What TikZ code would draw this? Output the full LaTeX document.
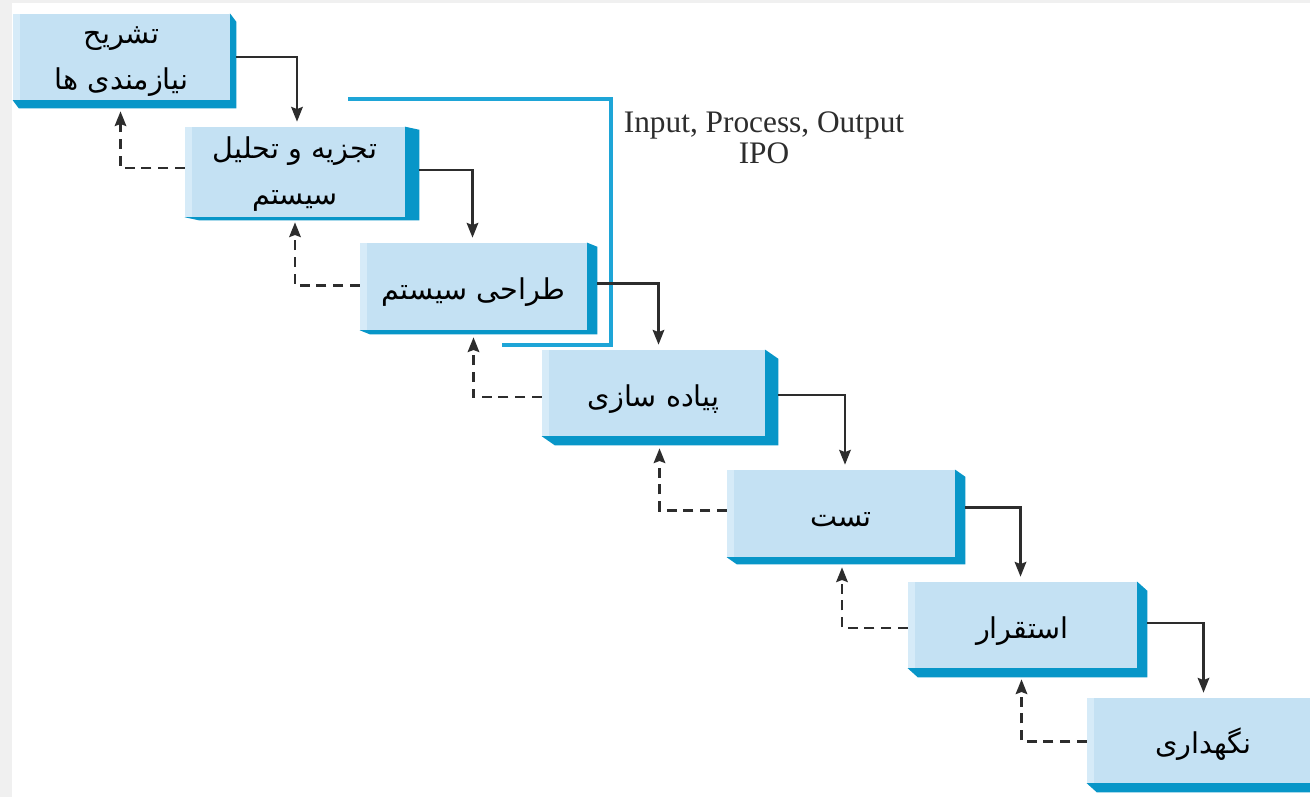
\documentclass[tikz,border=0pt]{standalone}
\usepackage{fontspec}
\setmainfont{Liberation Serif}
\newfontfamily\fa[Script=Arabic]{DejaVu Sans}
\TeXXeTstate=1
\usetikzlibrary{calc,arrows.meta,backgrounds}
\newdimen\pxu
\pxu=0.75pt
\definecolor{facec}{RGB}{196,225,243}
\definecolor{stripc}{RGB}{214,235,248}
\definecolor{shadec}{RGB}{8,150,200}
\definecolor{linec}{RGB}{45,45,45}
\definecolor{ipoc}{RGB}{30,165,215}
\definecolor{framec}{RGB}{240,240,240}
\tikzset{
  stage/.style={rectangle, fill=facec, inner sep=0pt, align=center, text=black,
    font=\fa\fontsize{21.5}{34}\selectfont,
    path picture={\fill[stripc] (path picture bounding box.north west) rectangle ([xshift=7\pxu]path picture bounding box.south west);}},
  oneline/.style={text height=21pt, text depth=1.5pt},
  twoline/.style={text height=50pt, text depth=2pt},
  flow/.style={draw=linec, line width=2.2pt, -{Stealth[length=11pt,width=8.5pt,inset=1.5pt]}},
  back/.style={flow, dash pattern=on 7.5pt off 5pt},
  ipoline/.style={draw=ipoc, line width=2.4pt},
}
\newcommand{\bevelshadow}[3]{%
  \fill[shadec] (#1.north east) -- ++(#2,#3) -- ($(#1.south east)+(#2,#3)$) -- ($(#1.south west)+(#2,#3)$) -- (#1.south west) -- cycle;}
\begin{document}
\begin{tikzpicture}[x=0.75pt,y=-0.75pt]
\useasboundingbox (0,0) rectangle (1310,797);

\node[stage, twoline, minimum width=217\pxu, minimum height=86\pxu] (b1) at (121.5,57)
  {\beginR تشریح\endR\\\beginR نیازمندی ها\endR};
\node[stage, twoline, minimum width=220\pxu, minimum height=90\pxu] (b2) at (295,172)
  {\beginR تجزیه و تحلیل\endR\\\beginR سیستم\endR};
\node[stage, oneline, minimum width=227\pxu, minimum height=87\pxu] (b3) at (473.5,286.5)
  {\beginR طراحی سیستم\endR};
\node[stage, oneline, minimum width=223\pxu, minimum height=86\pxu] (b4) at (653.5,393)
  {\beginR پیاده سازی\endR};
\node[stage, oneline, minimum width=228\pxu, minimum height=87\pxu] (b5) at (841,513.5)
  {\beginR تست\endR};
\node[stage, oneline, minimum width=229\pxu, minimum height=86\pxu] (b6) at (1022.5,625)
  {\beginR استقرار\endR};
\node[stage, oneline, minimum width=233\pxu, minimum height=85\pxu] (b7) at (1203.5,740.5)
  {\beginR نگهداری\endR};

\begin{pgfonlayer}{background}
  \fill[framec] (0,0) rectangle (1310,797);
  \fill[white] (12,3) rectangle (1310,797);
  \bevelshadow{b1}{6}{8}
  \bevelshadow{b2}{14}{3}
  \bevelshadow{b3}{10}{4}
  \bevelshadow{b4}{13}{9}
  \bevelshadow{b5}{10}{7}
  \bevelshadow{b6}{10}{9}
  \bevelshadow{b7}{10}{9}
\end{pgfonlayer}

% IPO bracket and label
\coordinate (i1) at (348,99);
\coordinate (i2) at (611,99);
\coordinate (i3) at (611,345);
\coordinate (i4) at (502,345);
\draw[ipoline] (i1) -- (i2) -- (i3) -- (i4);
\node[font=\fontsize{23.5}{23}\selectfont, text=linec, align=center] (ipo) at (764,138)
  {Input, Process, Output\\IPO};

% forward arrows
\draw[flow] ([xshift=6\pxu]b1.east) -| ([xshift=2\pxu,yshift=5\pxu]b2.north);
\draw[flow] ([xshift=14\pxu,yshift=2\pxu]b2.east) -| ([xshift=-1\pxu,yshift=5\pxu]b3.north);
\draw[flow] ([xshift=10\pxu,yshift=3\pxu]b3.east) -| ([xshift=5\pxu,yshift=5\pxu]b4.north);
\draw[flow] ([xshift=13\pxu,yshift=-2\pxu]b4.east) -| ([xshift=4\pxu,yshift=5\pxu]b5.north);
\draw[flow] ([xshift=10\pxu,yshift=6\pxu]b5.east) -| ([xshift=-2\pxu,yshift=5\pxu]b6.north);
\draw[flow] ([xshift=10\pxu,yshift=2\pxu]b6.east) -| ([yshift=5\pxu]b7.north);

% feedback arrows
\draw[back] ([yshift=4\pxu]b2.west) -| ([xshift=-1\pxu,yshift=-11\pxu]b1.south);
\draw[back] ([yshift=1\pxu]b3.west) -| ([yshift=-5\pxu]b2.south);
\draw[back] ([yshift=-4\pxu]b4.west) -| ([yshift=-7\pxu]b3.south);
\draw[back] ([yshift=3\pxu]b5.west) -| ([xshift=6\pxu,yshift=-12\pxu]b4.south);
\draw[back] ([yshift=-3\pxu]b6.west) -| ([xshift=1\pxu,yshift=-10\pxu]b5.south);
\draw[back] ([yshift=-1\pxu]b7.west) -| ([xshift=-1\pxu,yshift=-11\pxu]b6.south);
\end{tikzpicture}
\end{document}
